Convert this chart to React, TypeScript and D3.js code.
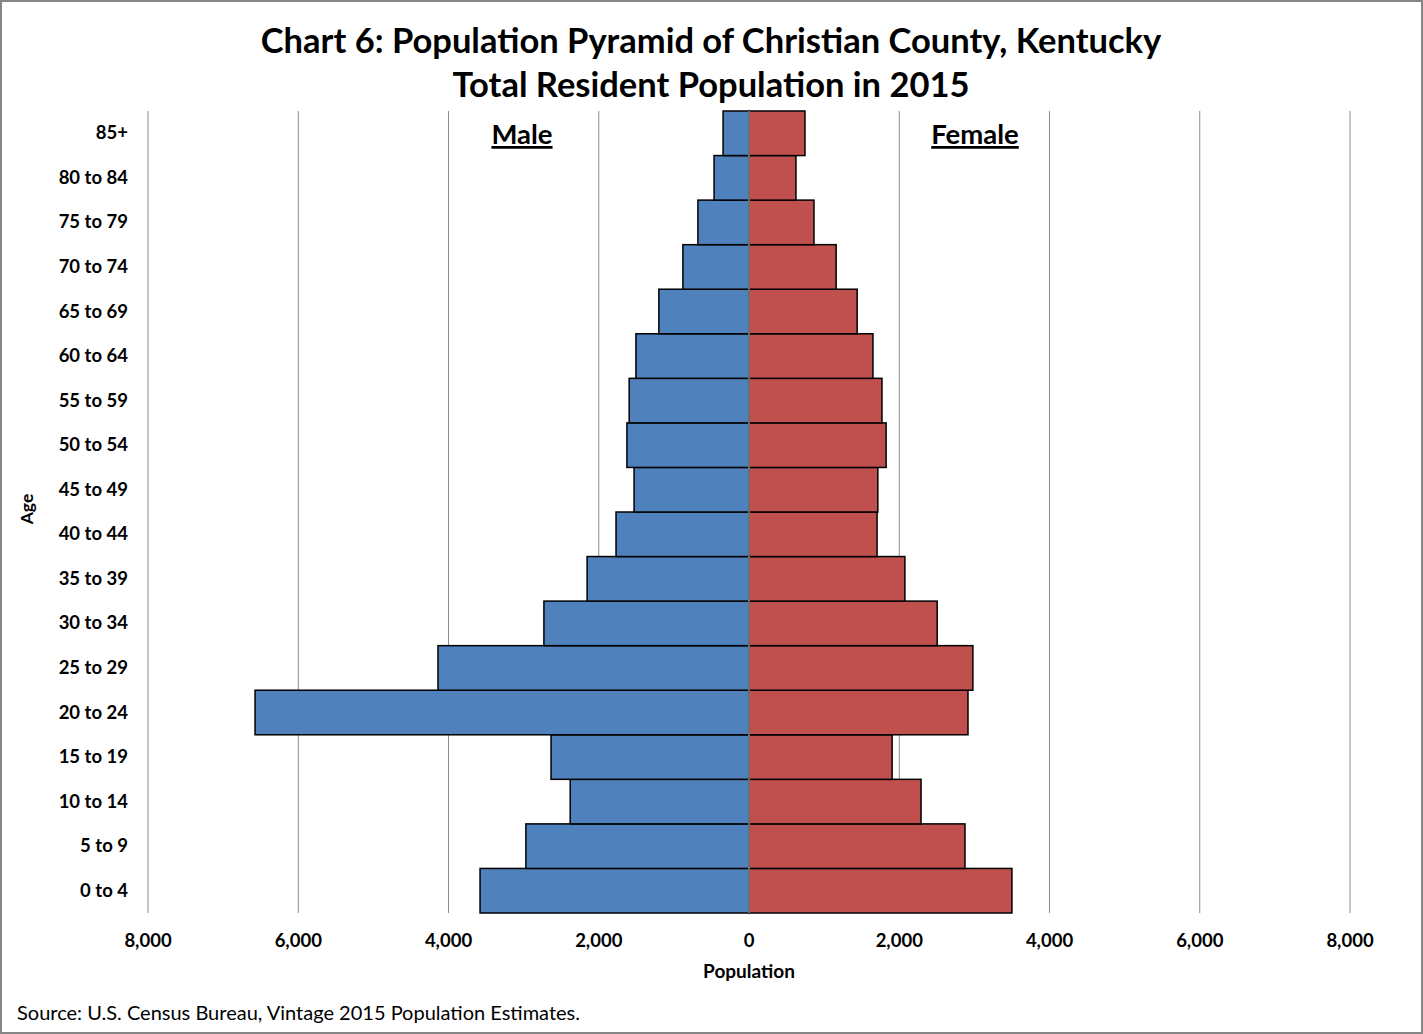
import * as React from 'react';
import * as d3 from 'd3';

const ageGroups = ['0 to 4', '5 to 9', '10 to 14', '15 to 19', '20 to 24', '25 to 29', '30 to 34', '35 to 39',
  '40 to 44', '45 to 49', '50 to 54', '55 to 59', '60 to 64', '65 to 69', '70 to 74', '75 to 79', '80 to 84', '85+'];
const male = [3580, 2970, 2380, 2635, 6575, 4140, 2730, 2155, 1770, 1530, 1625, 1595, 1505, 1200, 880, 680, 465, 345];
const female = [3500, 2875, 2290, 1905, 2915, 2980, 2505, 2075, 1705, 1715, 1825, 1770, 1650, 1440, 1160, 865, 625, 745];
const xTicks = [-8000, -6000, -4000, -2000, 0, 2000, 4000, 6000, 8000];

const W = 1423;
const H = 1034;
const FONT = 'Lato, "Open Sans", sans-serif';

export default function App() {
  const ref = React.useRef<SVGSVGElement>(null);

  React.useEffect(() => {
    const svg = d3.select(ref.current);
    svg.selectAll('*').remove();

    const left = 148, right = 1350, top = 111, bottom = 913;
    const x = d3.scaleLinear().domain([-8000, 8000]).range([left, right]);
    const y = d3.scaleBand().domain(ageGroups.slice().reverse()).range([top, bottom]).padding(0);

    svg.append('rect')
      .attr('x', 1).attr('y', 1).attr('width', W - 2).attr('height', H - 2)
      .attr('fill', '#fff').attr('stroke', '#868686').attr('stroke-width', 2);

    // gridlines
    svg.append('g')
      .selectAll('line')
      .data(xTicks.filter(d => d !== 0))
      .join('line')
      .attr('x1', d => x(d)).attr('x2', d => x(d))
      .attr('y1', top).attr('y2', bottom)
      .attr('stroke', '#8c8c8c').attr('stroke-width', 1);

    const rows = ageGroups.map((g, i) => ({ g, m: male[i], f: female[i] }));

    svg.append('g')
      .selectAll('rect')
      .data(rows)
      .join('rect')
      .attr('x', d => x(-d.m))
      .attr('y', d => y(d.g)!)
      .attr('width', d => x(0) - x(-d.m))
      .attr('height', y.bandwidth())
      .attr('fill', '#4f81bd')
      .attr('stroke', '#000').attr('stroke-width', 1.5);

    svg.append('g')
      .selectAll('rect')
      .data(rows)
      .join('rect')
      .attr('x', x(0))
      .attr('y', d => y(d.g)!)
      .attr('width', d => x(d.f) - x(0))
      .attr('height', y.bandwidth())
      .attr('fill', '#c0504d')
      .attr('stroke', '#000').attr('stroke-width', 1.5);

    // center line
    svg.append('line')
      .attr('x1', x(0)).attr('x2', x(0))
      .attr('y1', top).attr('y2', bottom)
      .attr('stroke', '#8c8c8c').attr('stroke-width', 1.5);

    // category labels
    svg.append('g')
      .selectAll('text')
      .data(ageGroups)
      .join('text')
      .attr('x', 128)
      .attr('y', d => y(d)! + y.bandwidth() / 2 + 6)
      .attr('text-anchor', 'end')
      .attr('font-family', FONT).attr('font-weight', 'bold').attr('font-size', 18.5)
      .text(d => d);

    // x tick labels
    svg.append('g')
      .selectAll('text')
      .data(xTicks)
      .join('text')
      .attr('x', d => x(d))
      .attr('y', 947)
      .attr('text-anchor', 'middle')
      .attr('font-family', FONT).attr('font-weight', 'bold').attr('font-size', 18.5)
      .text(d => d3.format(',')(Math.abs(d)));

    svg.append('text')
      .attr('x', x(0)).attr('y', 978)
      .attr('text-anchor', 'middle')
      .attr('font-family', FONT).attr('font-weight', 'bold').attr('font-size', 19)
      .text('Population');

    svg.append('text')
      .attr('transform', 'translate(33, 509) rotate(-90)')
      .attr('text-anchor', 'middle')
      .attr('font-family', FONT).attr('font-weight', 'bold').attr('font-size', 17.5)
      .text('Age');

    const title = svg.append('text')
      .attr('text-anchor', 'middle')
      .attr('font-family', FONT).attr('font-weight', 'bold').attr('font-size', 34.5);
    title.append('tspan').attr('x', 711).attr('y', 53)
      .text('Chart 6: Population Pyramid of Christian County, Kentucky');
    title.append('tspan').attr('x', 711).attr('y', 97)
      .text('Total Resident Population in 2015');

    svg.append('text')
      .attr('x', 522).attr('y', 144)
      .attr('text-anchor', 'middle')
      .attr('font-family', FONT).attr('font-weight', 'bold').attr('font-size', 27.5)
      .attr('text-decoration', 'underline')
      .text('Male');
    svg.append('text')
      .attr('x', 975).attr('y', 144)
      .attr('text-anchor', 'middle')
      .attr('font-family', FONT).attr('font-weight', 'bold').attr('font-size', 27.5)
      .attr('text-decoration', 'underline')
      .text('Female');

    svg.append('text')
      .attr('x', 17).attr('y', 1020)
      .attr('font-family', FONT).attr('font-size', 20)
      .text('Source: U.S. Census Bureau, Vintage 2015 Population Estimates.');
  }, []);

  return (
    <div style={{ position: 'absolute', left: 0, top: 0 }}>
      <svg ref={ref} width={W} height={H} style={{ display: 'block' }} />
    </div>
  );
}
